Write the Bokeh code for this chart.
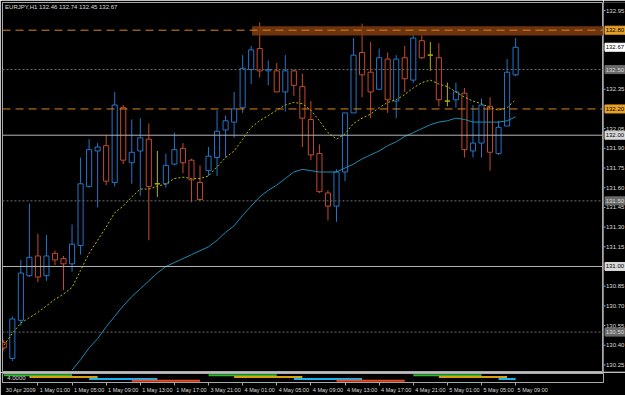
import math
from bokeh.plotting import figure
from bokeh.layouts import column, row
from bokeh.models import Range1d, FixedTicker, Label, ColumnDataSource, Span
from bokeh.core.properties import value
from bokeh.embed import file_html
from bokeh.resources import INLINE

symbol = "EURJPY,H1"

# hourly bars, index 0 = 30 Apr 21:00 ... index 60 = 5 May 09:00
opens  = [130.42,130.30,130.59,130.93,131.08,130.93,131.10,131.06,131.02,131.16,
          131.61,131.88,131.92,131.64,132.21,131.79,131.88,131.97,131.63,131.63,
          131.78,131.90,131.81,131.64,131.73,131.83,132.04,132.10,132.21,132.50,
          132.66,132.49,132.49,132.33,132.49,132.37,132.12,131.86,131.56,131.46,
          131.72,132.17,132.63,132.48,132.35,132.58,132.26,132.59,132.42,132.72,
          132.61,132.59,132.26,132.27,132.32,131.88,131.94,132.22,131.86,132.07,
          132.46]
highs  = [130.44,130.62,131.05,131.48,131.25,131.24,131.12,131.08,131.32,131.83,
          131.97,131.94,132.00,132.33,132.23,132.12,132.13,132.09,131.88,131.86,
          132.02,131.94,131.82,131.77,131.91,132.19,132.15,132.33,132.61,132.68,
          132.86,132.57,132.55,132.61,132.50,132.47,132.26,131.93,131.58,131.74,
          132.17,132.74,132.85,132.71,132.66,132.63,132.61,132.68,132.76,132.76,
          132.71,132.70,132.40,132.40,132.36,132.23,132.28,132.29,132.11,132.58,
          132.74]
lows   = [130.36,130.28,130.55,130.92,130.88,130.89,131.01,130.82,130.96,131.09,
          131.60,131.45,131.62,131.61,131.78,131.63,131.54,131.20,131.53,131.60,
          131.77,131.71,131.49,131.50,131.69,131.69,131.83,131.98,132.17,132.39,
          132.44,132.38,132.33,132.18,132.30,131.91,131.81,131.56,131.35,131.34,
          131.65,132.17,132.29,132.13,132.35,132.17,132.13,132.33,132.40,132.58,
          132.49,132.22,132.22,132.21,131.83,131.83,131.83,131.73,131.85,132.07,
          132.45]
closes = [130.38,130.60,130.95,131.07,130.92,131.08,131.05,131.02,131.17,131.63,
          131.89,131.91,131.65,132.23,131.81,131.87,131.98,131.61,131.63,131.77,
          131.89,131.79,131.66,131.51,131.84,132.03,132.11,132.20,132.51,132.65,
          132.49,132.50,132.33,132.49,132.38,132.13,131.85,131.57,131.46,131.72,
          132.17,132.61,132.46,132.33,132.59,132.27,132.58,132.43,132.74,132.59,
          132.61,132.27,132.26,132.33,131.89,131.94,132.23,131.87,132.06,132.48,
          132.67]

ma_fast = [130.40,130.49,130.57,130.61,130.65,130.70,130.75,130.79,130.84,130.97,
           131.10,131.20,131.30,131.41,131.46,131.53,131.59,131.59,131.61,131.63,
           131.67,131.68,131.67,131.67,131.69,131.76,131.83,131.88,131.97,132.06,
           132.11,132.15,132.19,132.23,132.25,132.24,132.19,132.11,132.02,131.97,
           132.01,132.09,132.13,132.16,132.21,132.25,132.27,132.31,132.36,132.40,
           132.42,132.39,132.37,132.33,132.29,132.26,132.24,132.21,132.19,132.21,
           132.27]
nan = float("nan")
ma_slow = [nan,nan,nan,nan,nan,nan,nan,nan,130.21,130.29,
           130.38,130.45,130.54,130.62,130.70,130.77,130.83,130.89,130.95,131.00,
           131.03,131.06,131.09,131.12,131.15,131.20,131.26,131.31,131.39,131.46,
           131.53,131.58,131.62,131.67,131.72,131.74,131.73,131.72,131.72,131.72,
           131.75,131.78,131.82,131.85,131.88,131.92,131.95,131.99,132.02,132.05,
           132.08,132.10,132.11,132.13,132.12,132.10,132.10,132.10,132.10,132.11,
           132.14]

price_ticks = [132.95,132.35,132.05,131.90,131.75,131.60,131.45,131.30,131.15,
               130.85,130.70,130.55,130.40,130.25]
grid_solid = [132.00, 131.00]
grid_dotted = [132.50, 131.50, 130.50]
sr_levels = [132.80, 132.20]
zone_start = 29.1
zone_bottom = 132.76
zone_top = 132.83

time_tick_bars = [0,4,8,12,16,20,24,28,32,36,40,44,48,52,56,60]
time_tick_labels = ["30 Apr 2009","1 May 01:00","1 May 05:00","1 May 09:00","1 May 13:00",
                    "1 May 17:00","3 May 21:00","4 May 01:00","4 May 05:00","4 May 09:00",
                    "4 May 13:00","4 May 17:00","4 May 21:00","5 May 01:00","5 May 05:00",
                    "5 May 09:00"]

sess_start = [0, 3, 10, 15, 24, 27, 34, 39, 48, 51, 58]
sess_end   = [8, 11, 18, 23, 32, 35, 42, 47, 56, 59, 60]
sess_row   = [1, 2, 3, 4, 1, 2, 3, 4, 1, 2, 3]
indicator_value = "4.0000"

# ---------------- styling ----------------
BULL = "#2474c8"
BEAR = "#c44a2c"
DOJI = "#b4b400"
GRID = "#a8a8a8"
sess_colors = {1: "#2fb52f", 2: "#d9a012", 3: "#1ab2ee", 4: "#ee4a26"}
FONT = "Liberation Sans"
TXT = "#dcdcdc"

bars = list(range(len(opens)))
colors = [BULL if c > o else (BEAR if c < o else DOJI) for o, c in zip(opens, closes)]
src = ColumnDataSource(dict(
    bar=bars, high=highs, low=lows,
    top=[max(o, c) for o, c in zip(opens, closes)],
    bottom=[min(o, c) for o, c in zip(opens, closes)],
    color=colors))

xr = Range1d(-0.152, 70.30)
yr = Range1d(130.200, 133.011)

common = dict(output_backend="svg", toolbar_location=None,
              background_fill_color="#000000", border_fill_color="#000000")

p1 = figure(width=603, height=372, x_range=xr, y_range=yr,
            x_axis_location=None, y_axis_location=None,
            outline_line_color=GRID,
            min_border_left=2, min_border_right=0, min_border_top=2, min_border_bottom=1,
            **common)
p1.xgrid.visible = False
p1.ygrid.visible = False

p1.segment(x0="bar", y0="low", x1="bar", y1="high", line_color="color", line_width=1, source=src)
p1.vbar(x="bar", top="top", bottom="bottom", width=0.6, fill_color="#000000",
        line_color="color", line_width=1, source=src)

p1.quad(left=[zone_start], right=[xr.end + 5], bottom=[zone_bottom], top=[zone_top],
        fill_color="#7a3a12", fill_alpha=0.9, line_color=None)

p1.line(bars, ma_slow, line_color="#1c8cb4", line_width=1)
p1.line(bars, ma_fast, line_color="#b8b800", line_width=1, line_dash="2 2")

for lvl in grid_solid:
    p1.add_layout(Span(location=lvl, dimension="width", line_color="#b4b4b4", line_width=1))
for lvl in grid_dotted:
    p1.add_layout(Span(location=lvl, dimension="width", line_color="#707070", line_width=1,
                       line_dash="2 2"))
for lvl in sr_levels:
    p1.add_layout(Span(location=lvl, dimension="width", line_color="#d9841c", line_width=1,
                       line_dash="8 5"))

p1.add_layout(Label(x=0.15, y=132.975,
                    text=f"{symbol}  {opens[-1]:.2f} {highs[-1]:.2f} {lows[-1]:.2f} {closes[-1]:.2f}",
                    text_font=FONT, text_font_size="6px", text_color=TXT,
                    text_align="left", text_baseline="middle"))

# ---------------- price scale column ----------------
ps = figure(width=22, height=372, x_range=Range1d(0, 22), y_range=yr,
            x_axis_location=None, y_axis_location=None, outline_line_color=None,
            min_border_left=0, min_border_right=0, min_border_top=2, min_border_bottom=1,
            **common)
ps.xgrid.visible = False
ps.ygrid.visible = False

tick_src = ColumnDataSource(dict(y=price_ticks, txt=[f"{t:.2f}" for t in price_ticks]))
ps.segment(x0=0, y0="y", x1=2, y1="y", line_color=GRID, line_width=1, source=tick_src)
ps.text(x=2.5, y="y", text="txt", text_font=value(FONT), text_font_size="6px",
        text_color=TXT, text_align="left", text_baseline="middle", source=tick_src)

box_vals = sr_levels + grid_dotted + grid_solid + [closes[-1]]
box_bg = ["#e8a028"] * len(sr_levels) + ["#6a6a6a"] * len(grid_dotted) + \
         ["#d8d8d8"] * len(grid_solid) + ["#ffffff"]
box_fg = ["#000000"] * len(sr_levels) + ["#d8d8d8"] * len(grid_dotted) + \
         ["#000000"] * len(grid_solid) + ["#000000"]
box_src = ColumnDataSource(dict(y=box_vals, bg=box_bg, fg=box_fg,
                                txt=[f"{v:.2f}" for v in box_vals]))
ps.rect(x=11.5, y="y", width=20, height=8, width_units="screen", height_units="screen",
        fill_color="bg", line_color="bg", source=box_src)
ps.text(x=2.2, y="y", text="txt", text_font=value(FONT), text_font_size="6px",
        text_color="fg", text_align="left", text_baseline="middle", source=box_src)

# ---------------- indicator sub-window + time axis ----------------
p2 = figure(width=625, height=23, x_range=xr, y_range=Range1d(5, 0),
            x_axis_location="below", y_axis_location=None,
            outline_line_color=GRID,
            min_border_left=2, min_border_right=22, min_border_top=1, min_border_bottom=9,
            **common)
p2.xgrid.visible = False
p2.ygrid.visible = False

sess_src = ColumnDataSource(dict(x0=sess_start, x1=sess_end, y=sess_row,
                                 color=[sess_colors[r] for r in sess_row]))
p2.segment(x0="x0", y0="y", x1="x1", y1="y", line_color="color", line_width=2, source=sess_src)
p2.add_layout(Label(x=0.4, y=2.6, text=indicator_value, text_font=FONT, text_font_size="6px",
                    text_color=TXT, text_align="left", text_baseline="middle"))

label_shift = 2  # labels sit to the right of their tick, as on the original chart
bx = p2.xaxis[0]
bx.ticker = FixedTicker(ticks=[b + label_shift for b in time_tick_bars],
                        minor_ticks=time_tick_bars[1:])
bx.major_label_overrides = {b + label_shift: l for b, l in zip(time_tick_bars, time_tick_labels)}
bx.major_label_text_font = FONT
bx.major_label_text_font_size = "5.5px"
bx.major_label_text_color = TXT
bx.major_tick_out = 0
bx.major_tick_in = 0
bx.minor_tick_out = 3
bx.minor_tick_in = 0
bx.major_label_standoff = 1
bx.minor_tick_line_color = GRID
bx.axis_line_color = GRID

layout = column(row(p1, ps, spacing=0), p2, spacing=0)
open("out.html", "w").write(file_html(layout, INLINE))
